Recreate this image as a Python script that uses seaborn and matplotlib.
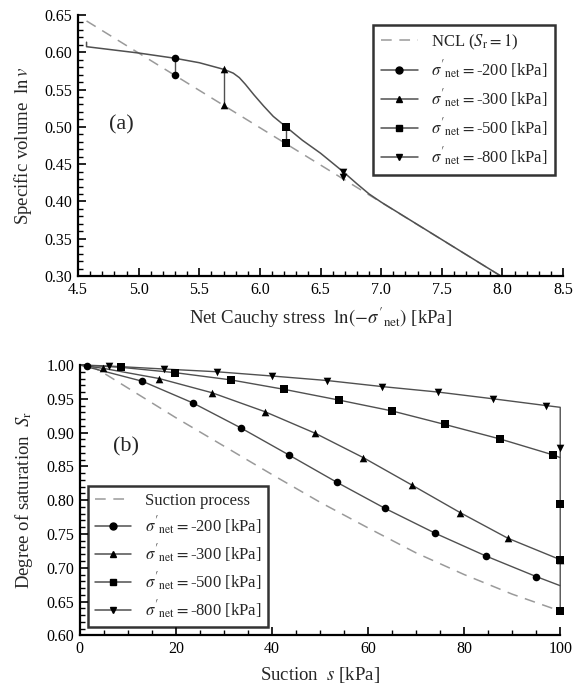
import numpy as np
import pandas as pd
import matplotlib
matplotlib.use("Agg")
import matplotlib.pyplot as plt
from matplotlib.lines import Line2D
from matplotlib.ticker import MultipleLocator, FormatStrFormatter
import seaborn as sns

# ---- panel (a): specific volume vs net stress ----
ncl_x = [4.57, 8.0]
ncl_y = [0.642, 0.2986]

curve_x = [4.57, 4.57, 5.0, 5.298, 5.5, 5.704, 5.78, 5.83, 5.88, 5.95, 6.03, 6.11, 6.215,
           6.35, 6.5, 6.685, 6.8, 6.9, 7.0, 8.0]
curve_y = [0.6135, 0.6075, 0.599, 0.592, 0.586, 0.577, 0.572, 0.566, 0.557, 0.543, 0.528, 0.514, 0.500,
           0.482, 0.4646, 0.440, 0.4236, 0.410, 0.399, 0.2986]

stress_labels = ["-200", "-300", "-500", "-800"]
stress_ln = [5.298, 5.704, 6.215, 6.685]
v_upper = [0.592, 0.577, 0.500, 0.440]
v_lower = [0.569, 0.529, 0.479, 0.433]
marks = ["o", "^", "s", "v"]

# ---- panel (b): degree of saturation vs suction ----
suc_x = [2, 5, 10, 20, 30, 40, 50, 60, 70, 80, 90, 100]
suc_y = [1.0, 0.988, 0.966, 0.922, 0.880, 0.838, 0.797, 0.759, 0.722, 0.690, 0.661, 0.636]

# lines (s, Sr) for each net stress, incl. the drop at s = 100
line_s = {
    "-200": [0, 13, 23.5, 33.5, 43.5, 53.5, 63.5, 74, 84.5, 95, 100],
    "-300": [0, 4.9, 16.5, 27.5, 38.5, 49, 59, 69.1, 79.2, 89.1, 100],
    "-500": [0, 8.5, 19.9, 31.4, 42.5, 54, 65, 76, 87.5, 98.5, 100, 100, 100, 100],
    "-800": [0, 6, 17.6, 28.5, 40, 51.5, 63, 74.5, 86, 97, 100, 100, 100],
}
line_sr = {
    "-200": [1.0, 0.976, 0.944, 0.907, 0.867, 0.8265, 0.788, 0.751, 0.7175, 0.687, 0.6735],
    "-300": [1.0, 0.995, 0.980, 0.959, 0.931, 0.899, 0.863, 0.8225, 0.7815, 0.7437, 0.712],
    "-500": [1.0, 0.9966, 0.9886, 0.978, 0.964, 0.948, 0.932, 0.912, 0.8905, 0.867, 0.863, 0.794, 0.7115, 0.6365],
    "-800": [1.0, 0.9985, 0.994, 0.990, 0.9837, 0.977, 0.968, 0.960, 0.950, 0.940, 0.9374, 0.877, 0.863],
}
# marker positions
mark_s = {
    "-200": [1.4, 13, 23.5, 33.5, 43.5, 53.5, 63.5, 74, 84.5, 95],
    "-300": [4.9, 16.5, 27.5, 38.5, 49, 59, 69.1, 79.2, 89.1, 100],
    "-500": [8.5, 19.9, 31.4, 42.5, 54, 65, 76, 87.5, 98.5, 100, 100, 100],
    "-800": [6, 17.6, 28.5, 40, 51.5, 63, 74.5, 86, 97, 100],
}
mark_sr = {
    "-200": [0.9985, 0.976, 0.944, 0.907, 0.867, 0.8265, 0.788, 0.751, 0.7175, 0.687],
    "-300": [0.995, 0.980, 0.959, 0.931, 0.899, 0.863, 0.8225, 0.7815, 0.7437, 0.712],
    "-500": [0.9966, 0.9886, 0.978, 0.964, 0.948, 0.932, 0.912, 0.8905, 0.867, 0.794, 0.7115, 0.6365],
    "-800": [0.9985, 0.994, 0.990, 0.9837, 0.977, 0.968, 0.960, 0.950, 0.940, 0.877],
}

sns.set_style("ticks")
plt.rcParams["font.family"] = ["Liberation Serif", "DejaVu Serif"]
plt.rcParams["mathtext.fontset"] = "stix"

LINE_C = "#505050"
DASH_C = "#9a9a9a"
DASHES = (7, 5)
MS = 30

fig = plt.figure(figsize=(5.74, 6.91), dpi=100)
ax1 = fig.add_axes([0.136, 0.6006, 0.845, 0.3777])
ax2 = fig.add_axes([0.139, 0.0805, 0.837, 0.3913])


def style_axis(ax):
    sns.despine(ax=ax)
    for sp in ["left", "bottom"]:
        ax.spines[sp].set_linewidth(1.6)
        ax.spines[sp].set_color("black")
    ax.tick_params(which="major", direction="in", length=6, width=1.2, labelsize=11.5,
                   colors="black", pad=4)
    ax.tick_params(which="minor", direction="in", length=3.5, width=1.0, colors="black")


# panel (a)
sns.lineplot(x=ncl_x, y=ncl_y, ax=ax1, color=DASH_C, lw=1.1, sort=False, estimator=None)
ax1.lines[-1].set_dashes(DASHES)
sns.lineplot(x=curve_x, y=curve_y, ax=ax1, color=LINE_C, lw=1.1, sort=False, estimator=None)
for xl, up, lo, m in zip(stress_ln, v_upper, v_lower, marks):
    sns.lineplot(x=[xl, xl], y=[up, lo], ax=ax1, color=LINE_C, lw=1.0, sort=False, estimator=None)
    sns.scatterplot(x=[xl, xl], y=[up, lo], ax=ax1, marker=m, s=MS, color="black",
                    edgecolor="black", linewidth=0, zorder=5)

ax1.set_xlim(4.5, 8.5)
ax1.set_ylim(0.30, 0.65)
ax1.xaxis.set_major_locator(MultipleLocator(0.5))
ax1.xaxis.set_minor_locator(MultipleLocator(0.1))
ax1.yaxis.set_major_locator(MultipleLocator(0.05))
ax1.yaxis.set_minor_locator(MultipleLocator(0.01))
ax1.xaxis.set_major_formatter(FormatStrFormatter("%.1f"))
ax1.yaxis.set_major_formatter(FormatStrFormatter("%.2f"))
style_axis(ax1)
ax1.set_xlabel(r"Net Cauchy stress  $\ln(-\sigma'_{\rm net})$ [kPa]", fontsize=13.5, labelpad=6)
ax1.set_ylabel(r"Specific volume  $\ln v$", fontsize=13.5, labelpad=8)
ax1.text(4.86, 0.5025, "(a)", fontsize=16, ha="center", va="center")

handles_a = [Line2D([], [], color=DASH_C, lw=1.1, dashes=DASHES)]
labels_a = [r"NCL ($S_{\rm r}=1$)"]
for lab, m in zip(stress_labels, marks):
    handles_a.append(Line2D([], [], color=LINE_C, lw=1.1, marker=m, markersize=5,
                            markerfacecolor="black", markeredgecolor="black"))
    labels_a.append(r"$\sigma'_{\rm net}=$" + lab + " [kPa]")
leg = ax1.legend(handles_a, labels_a, loc="upper right", bbox_to_anchor=(0.983, 0.962),
                 fontsize=12, frameon=True, fancybox=False, handlelength=2.2,
                 labelspacing=0.4, borderpad=0.45, borderaxespad=0)
leg.get_frame().set_edgecolor("black")
leg.get_frame().set_linewidth(1.8)

# panel (b)
sns.lineplot(x=suc_x, y=suc_y, ax=ax2, color=DASH_C, lw=1.1, sort=False, estimator=None)
ax2.lines[-1].set_dashes(DASHES)
for lab, m in zip(stress_labels, marks):
    sns.lineplot(x=line_s[lab], y=line_sr[lab], ax=ax2, color=LINE_C, lw=1.0,
                 sort=False, estimator=None)
    ax2.lines[-1].set_clip_on(False)
    sns.scatterplot(x=mark_s[lab], y=mark_sr[lab], ax=ax2, marker=m, s=MS, color="black",
                    edgecolor="black", linewidth=0, zorder=5, clip_on=False)

ax2.set_xlim(0, 100)
ax2.set_ylim(0.60, 1.00)
ax2.xaxis.set_major_locator(MultipleLocator(20))
ax2.xaxis.set_minor_locator(MultipleLocator(5))
ax2.yaxis.set_major_locator(MultipleLocator(0.05))
ax2.yaxis.set_minor_locator(MultipleLocator(0.01))
ax2.yaxis.set_major_formatter(FormatStrFormatter("%.2f"))
style_axis(ax2)
ax2.set_xlabel(r"Suction  $s$ [kPa]", fontsize=13.5, labelpad=6)
ax2.set_ylabel(r"Degree of saturation  $S_{\rm r}$", fontsize=13.5, labelpad=8)
ax2.text(9.7, 0.879, "(b)", fontsize=16, ha="center", va="center")

handles_b = [Line2D([], [], color=DASH_C, lw=1.1, dashes=DASHES)] + handles_a[1:]
labels_b = ["Suction process"] + labels_a[1:]
leg2 = ax2.legend(handles_b, labels_b, loc="lower left", bbox_to_anchor=(0.017, 0.03),
                  fontsize=12, frameon=True, fancybox=False, handlelength=2.2,
                  labelspacing=0.33, borderpad=0.4, borderaxespad=0)
leg2.get_frame().set_edgecolor("black")
leg2.get_frame().set_linewidth(1.8)
leg2.set_zorder(10)

fig.savefig("out.png", dpi=100)
